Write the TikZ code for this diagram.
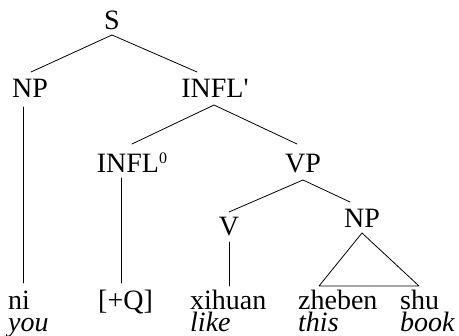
\documentclass[tikz,border=0pt]{standalone}
\usepackage{fontspec}
\setmainfont{Liberation Serif}
\begin{document}
\begin{tikzpicture}[x=1pt,y=-1pt,
  lab/.style={inner sep=0pt,anchor=base,font=\fontsize{28}{34}\selectfont},
  word/.style={inner sep=0pt,anchor=base west,font=\fontsize{28}{34}\selectfont},
  gloss/.style={word,font=\fontsize{28}{34}\selectfont\itshape},
  edge/.style={line width=0.8pt,line cap=round,line join=round}]
\useasboundingbox (0,0) rectangle (459,336);

% phrase labels
\node[lab] (S)    at (112,30)  {S};
\node[lab] (NP)   at (30,98)   {NP};
\node[lab] (Ibar) at (215,98)  {INFL\textquotesingle};
\node[lab] (I0)   at (132,173) {INFL\raisebox{9pt}{\fontsize{16}{16}\selectfont 0}};
\node[lab] (VP)   at (303,173) {VP};
\node[lab] (V)    at (229,236) {V};
\node[lab] (NPo)  at (362,228) {NP};

% terminal words and their glosses
\node[word]  (ni)     at (8,310)   {ni};
\node[word]  (Q)      at (98,310)  {[+Q]};
\node[word]  (xihuan) at (190,310) {xihuan};
\node[word]  (zheben) at (298,310) {zheben};
\node[word]  (shu)    at (400,310) {shu};
\node[gloss] (you)    at (8,332)   {you};
\node[gloss] (like)   at (190,332) {like};
\node[gloss] (this)   at (298,332) {this};
\node[gloss] (book)   at (400,332) {book};

% branches
\draw[edge] ([shift={(1,-26)}]NP.base) -- ([shift={(0,5)}]S.base) -- ([shift={(-18,-26)}]Ibar.base);
\draw[edge] ([shift={(0,-29)}]I0.base) -- ([shift={(-1,7)}]Ibar.base) -- ([shift={(-6,-29)}]VP.base);
\draw[edge] ([shift={(0,-24)}]V.base) -- ([shift={(0,7)}]VP.base) -- ([shift={(-12,-26)}]NPo.base);

% unary projections
\draw[edge] ([shift={(-7,9)}]NP.base) -- ([shift={(15,-27)}]ni.base west);
\draw[edge] ([shift={(-11,5)}]I0.base) -- ([shift={(23,-27)}]Q.base west);
\draw[edge] ([shift={(0,6)}]V.base) -- ([shift={(39,-24)}]xihuan.base west);

% roof over the object NP
\draw[edge] ([shift={(0,5)}]NPo.base) -- ([shift={(21,-24)}]zheben.base west)
  -- ([shift={(19,-24)}]shu.base west) -- cycle;
\end{tikzpicture}
\end{document}
